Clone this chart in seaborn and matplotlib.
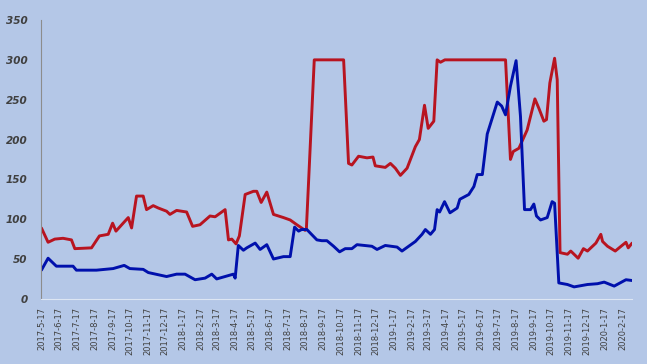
import pandas as pd
import matplotlib
matplotlib.use("Agg")
import matplotlib.pyplot as plt
import seaborn as sns

# values; x given as months after 2017-5-17
red_months = [0, 0.38, 0.76, 1.23, 1.71, 1.9, 2.85, 3.3, 3.8, 4.05, 4.24, 4.65, 4.94, 5.13,
              5.41, 5.79, 5.98, 6.36, 6.65, 7.12, 7.31, 7.69, 8.26, 8.6, 9.02, 9.59, 9.88,
              10.45, 10.64, 10.83, 11.07, 11.26, 11.59, 12.06, 12.25, 12.5, 12.82, 13.2,
              13.77, 14.15, 14.53, 15.0, 15.07, 15.52, 17.19, 17.47, 17.66, 18.04, 18.52,
              18.86, 18.99, 19.56, 19.85, 20.13, 20.42, 20.8, 21.27, 21.5, 21.79, 22.0,
              22.32, 22.51, 22.7, 22.95, 26.4, 26.68, 26.84, 27.16, 27.63, 28.07, 28.3,
              28.58, 28.73, 28.92, 29.19, 29.34, 29.5, 29.92, 30.11, 30.53, 30.83, 31.06,
              31.54, 31.82, 31.92, 32.2, 32.64, 32.97, 33.25, 33.38, 33.6]
red_values = [89, 71, 75, 76, 74, 63, 64, 79, 81, 95, 85, 95, 102, 89,
              129, 129, 112, 117, 114, 110, 106, 111, 109, 91, 93, 104, 103,
              112, 74, 75, 69, 79, 131, 135, 135, 121, 134, 106,
              102, 99, 93, 86, 87, 300, 300, 170, 168, 179, 177,
              178, 167, 165, 170, 164, 155, 164, 191, 200, 243, 214,
              223, 300, 297, 300, 300, 175, 185, 189, 212, 251, 239,
              223, 225, 271, 302, 275, 58, 56, 60, 51, 63, 60,
              70, 81, 72, 66, 60, 66, 71, 64, 70]

blue_months = [0, 0.38, 0.85, 1.8, 1.99, 3.13, 4.08, 4.71, 5.03, 5.79, 6.08, 7.12, 7.69,
               8.17, 8.74, 9.31, 9.69, 9.97, 10.92, 11.02, 11.2, 11.49, 11.68, 12.16,
               12.44, 12.82, 13.2, 13.77, 14.15, 14.4, 14.63, 14.8, 15.1, 15.67, 15.95,
               16.24, 16.62, 16.96, 17.28, 17.66, 17.95, 18.8, 19.09, 19.56, 20.23, 20.51,
               21.27, 21.65, 21.84, 22.13, 22.36, 22.51, 22.65, 22.93, 23.24, 23.65, 23.8,
               24.31, 24.6, 24.79, 25.08, 25.36, 25.93, 26.18, 26.4, 26.68, 27.0, 27.25,
               27.48, 27.82, 28.01, 28.16, 28.39, 28.77, 29.05, 29.19, 29.43, 29.92, 30.3,
               31.06, 31.63, 32.01, 32.58, 33.25, 33.6]
blue_values = [36, 51, 41, 41, 36, 36, 38, 42, 38, 37, 33, 28, 31,
               31, 24, 26, 31, 25, 31, 26, 67, 61, 64, 70,
               62, 68, 50, 53, 53, 90, 85, 87, 87, 74, 73,
               73, 66, 59, 63, 63, 68, 66, 62, 67, 65, 60,
               72, 81, 87, 81, 87, 112, 109, 122, 108, 114, 125,
               131, 141, 156, 156, 207, 247, 242, 231, 267, 299, 229,
               112, 112, 119, 104, 99, 102, 122, 120, 20, 18, 15,
               18, 19, 21, 16, 24, 23]

tick_labels = ["2017-5-17", "2017-6-17", "2017-7-17", "2017-8-17", "2017-9-17",
               "2017-10-17", "2017-11-17", "2017-12-17", "2018-1-17", "2018-2-17",
               "2018-3-17", "2018-4-17", "2018-5-17", "2018-6-17", "2018-7-17",
               "2018-8-17", "2018-9-17", "2018-10-17", "2018-11-17", "2018-12-17",
               "2019-1-17", "2019-2-17", "2019-3-17", "2019-4-17", "2019-5-17",
               "2019-6-17", "2019-7-17", "2019-8-17", "2019-9-17", "2019-10-17",
               "2019-11-17", "2019-12-17", "2020-1-17", "2020-2-17"]

start = pd.Timestamp("2017-05-17")


def to_dates(months):
    return [start + pd.to_timedelta(m * 30.44, unit="D") for m in months]


red_df = pd.DataFrame({"date": to_dates(red_months), "value": red_values})
blue_df = pd.DataFrame({"date": to_dates(blue_months), "value": blue_values})

bg = "#B4C7E7"
sns.set_style("white")

fig = plt.figure(figsize=(6.47, 3.64), dpi=100, facecolor=bg)
ax = fig.add_axes([0.064, 0.179, 0.913, 0.766], facecolor=bg)

sns.lineplot(data=red_df, x="date", y="value", color="#B81420", linewidth=2.1, ax=ax)
sns.lineplot(data=blue_df, x="date", y="value", color="#0010AC", linewidth=2.1, ax=ax)

ticks = [pd.Timestamp(s) for s in tick_labels]
ax.set_xticks(ticks)
ax.set_xticklabels(tick_labels, rotation=90, fontsize=6, color="#404040")
ax.set_xlim(start, red_df["date"].iloc[-1])
ax.set_ylim(0, 350)
ax.set_yticks(range(0, 351, 50))
ax.set_yticklabels([str(v) for v in range(0, 351, 50)], fontsize=7.5,
                   style="italic", fontweight="semibold", color="#404040")
ax.set_xlabel("")
ax.set_ylabel("")

for side in ["top", "right"]:
    ax.spines[side].set_visible(False)
ax.spines["left"].set_color("#8C8C8C")
ax.spines["bottom"].set_color("#DDE6F3")
ax.tick_params(axis="y", length=3, color="#8C8C8C", pad=7)
ax.tick_params(axis="x", length=3, color="#DDE6F3", pad=3)

fig.savefig("out.png", dpi=100, facecolor=bg)
